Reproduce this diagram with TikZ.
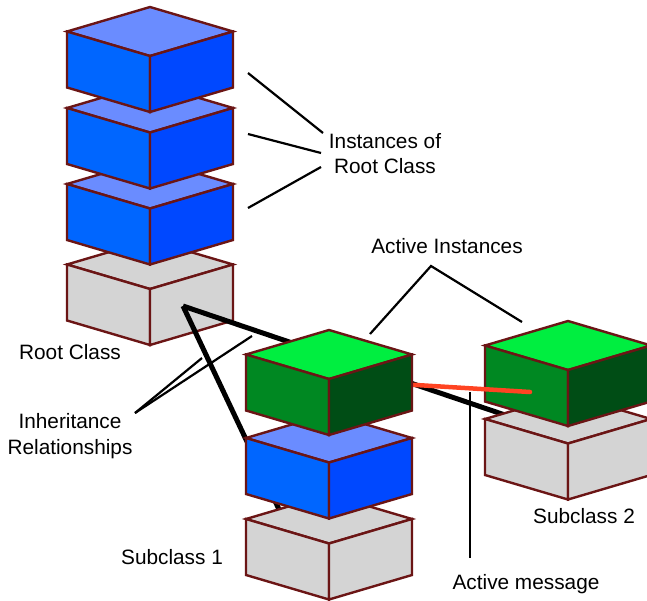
\documentclass[tikz,border=0pt]{standalone}
\usepackage{fontspec}
\setmainfont{Liberation Sans}
\usepackage[dvipsnames]{xcolor}

\definecolor{edgered}{HTML}{6B1515}
\definecolor{bluetop}{HTML}{6A8CFF}
\definecolor{blueleft}{HTML}{0066FF}
\definecolor{blueright}{HTML}{0048FF}
\definecolor{greentop}{HTML}{00EE40}
\definecolor{greenleft}{HTML}{008822}
\definecolor{greenright}{HTML}{004D15}
\definecolor{greyface}{HTML}{D4D4D4}
\definecolor{msgred}{HTML}{FF4422}

% #1 name, #2 centre x, #3 top y, #4 top face, #5 left face, #6 right face
\newcommand{\drawblock}[6]{%
  \coordinate (#1) at (#2,#3);
  \filldraw[block line, fill=#4] (#2,#3) -- ++(83,24.5) -- ++(-83,24.5) -- ++(-83,-24.5) -- cycle;
  \filldraw[block line, fill=#5] (#2-83,#3+24.5) -- ++(83,24.5) -- ++(0,56) -- ++(-83,-24.5) -- cycle;
  \filldraw[block line, fill=#6] (#2+83,#3+24.5) -- ++(-83,24.5) -- ++(0,56) -- ++(83,-24.5) -- cycle;
}

\begin{document}
\begin{tikzpicture}[x=1pt,y=-1pt,
  label node/.style={font=\fontsize{20.8}{25.5}\selectfont, inner sep=0pt},
  leader/.style={line width=2.2pt, black},
  link/.style={line width=5pt, black},
  block line/.style={draw=edgered, line width=2.4pt}]

            \useasboundingbox (0,0) rectangle (647,600);

            % root class and its instances
            \drawblock{root}{150}{240}{greyface}{greyface}{greyface}
            \drawblock{inst3}{150}{159.5}{bluetop}{blueleft}{blueright}
            \drawblock{inst2}{150}{83.5}{bluetop}{blueleft}{blueright}
            \drawblock{inst1}{150}{7}{bluetop}{blueleft}{blueright}

            % inheritance links
            \coordinate (rp) at (183,306);
            \coordinate (s1p) at (284,520);
            \coordinate (s2p) at (505,415);
            \draw[link] (rp) to (s1p);
            \draw[link] (rp) to (s2p);

            % subclass 2
            \drawblock{sub2box}{568}{394.5}{greyface}{greyface}{greyface}
            \drawblock{act2}{568}{321}{greentop}{greenleft}{greenright}

            % active message
            \coordinate (m1) at (400,384);
            \coordinate (m2) at (530,392);
            \draw[msgred, line width=4.5pt, line cap=round] (m1) to (m2);

            % subclass 1
            \drawblock{sub1box}{329}{494.5}{greyface}{greyface}{greyface}
            \drawblock{sub1inst}{329}{413.5}{bluetop}{blueleft}{blueright}
            \drawblock{act1}{329}{330}{greentop}{greenleft}{greenright}

            % labels
            \node[label node, align=center] (inst) at (385,153.5) {Instances of\\Root Class};
            \node[label node, anchor=base] (actinst) at (447,253) {Active Instances};
            \node[label node, anchor=base] (rootlbl) at (70,359) {Root Class};
            \node[label node, align=center] (inher) at (70,436) {Inheritance\\Relationships};
            \node[label node, anchor=base] (sub1) at (172,564) {Subclass 1};
            \node[label node, anchor=base] (sub2) at (584,523) {Subclass 2};
            \node[label node, anchor=base] (actmsg) at (526,589) {Active message};

            % leaders
            \coordinate (i1) at (248,73);
            \coordinate (i2) at (248,134);
            \coordinate (i3) at (248,208);
            \coordinate (j1) at (323,133);
            \coordinate (j2) at (321,153);
            \coordinate (j3) at (321,167);
            \draw[leader] (i1) to (j1);
            \draw[leader] (i2) to (j2);
            \draw[leader] (i3) to (j3);

            \coordinate (a0) at (431,266);
            \coordinate (a1) at (370,334);
            \coordinate (a2) at (522,322);
            \draw[leader] (a1) -- (a0) -- (a2);

            \coordinate (h0) at (135,413);
            \coordinate (h1) at (202,358);
            \coordinate (h2) at (252,336);
            \draw[leader] (h0) to (h1);
            \draw[leader] (h0) to (h2);

            \coordinate (v1) at (470,392);
            \coordinate (v2) at (470,558);
            \draw[leader] (v1) to (v2);

            ;
        \end{tikzpicture}
\end{document}
